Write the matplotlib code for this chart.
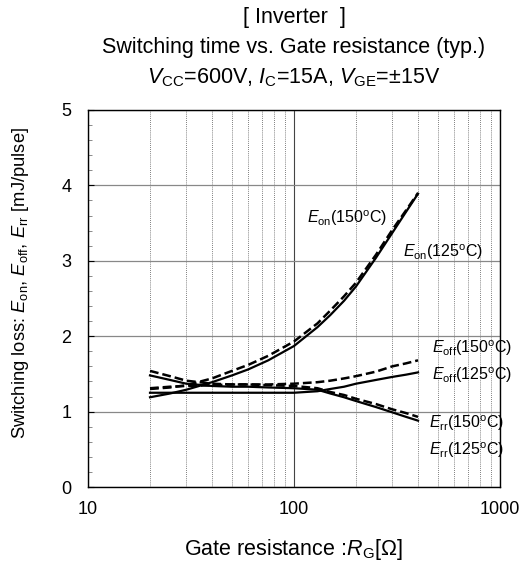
import matplotlib
matplotlib.use("Agg")
import matplotlib.pyplot as plt
from matplotlib.ticker import LogLocator, NullFormatter, MultipleLocator

plt.rcParams['font.family'] = ['Liberation Sans', 'DejaVu Sans']
plt.rcParams['mathtext.fontset'] = 'custom'
plt.rcParams['mathtext.rm'] = 'Liberation Sans'
plt.rcParams['mathtext.it'] = 'Liberation Sans:italic'

# gate resistance [ohm]
rg = [20, 25, 30, 40, 50, 60, 75, 100, 130, 150, 175, 200, 250, 300, 350, 400]

eon_125 = [1.19, 1.24, 1.29, 1.39, 1.48, 1.56, 1.68, 1.87, 2.12, 2.28, 2.47, 2.66, 3.04, 3.37, 3.65, 3.89]
eon_150 = [1.30, 1.32, 1.35, 1.44, 1.54, 1.62, 1.74, 1.93, 2.17, 2.34, 2.53, 2.71, 3.08, 3.41, 3.67, 3.90]
eoff_125 = [1.25, 1.25, 1.25, 1.25, 1.25, 1.25, 1.25, 1.25, 1.27, 1.30, 1.33, 1.37, 1.42, 1.46, 1.49, 1.52]
eoff_150 = [1.31, 1.33, 1.34, 1.35, 1.36, 1.36, 1.36, 1.37, 1.39, 1.41, 1.44, 1.47, 1.53, 1.60, 1.64, 1.68]
err_125 = [1.48, 1.42, 1.37, 1.34, 1.33, 1.33, 1.32, 1.31, 1.29, 1.24, 1.19, 1.14, 1.06, 0.99, 0.93, 0.88]
err_150 = [1.54, 1.47, 1.41, 1.37, 1.36, 1.36, 1.35, 1.34, 1.31, 1.26, 1.22, 1.17, 1.10, 1.03, 0.98, 0.93]

fig = plt.figure(figsize=(5.19, 5.62), dpi=100)
ax = fig.add_axes([88/519, 1-487/562, 412/519, 377/562])

dash = (3.5, 1.6)
ax.plot(rg, eon_125, color='black', lw=1.6, zorder=3)
ax.plot(rg, eon_150, color='black', lw=1.8, dashes=dash, zorder=3)
ax.plot(rg, eoff_125, color='black', lw=1.6, zorder=3)
ax.plot(rg, eoff_150, color='black', lw=1.8, dashes=dash, zorder=3)
ax.plot(rg, err_125, color='black', lw=1.6, zorder=3)
ax.plot(rg, err_150, color='black', lw=1.8, dashes=dash, zorder=3)

ax.set_xscale('log')
ax.set_xlim(10, 1000)
ax.set_ylim(0, 5)
ax.xaxis.set_minor_locator(LogLocator(base=10, subs=range(2, 10), numticks=20))
ax.xaxis.set_minor_formatter(NullFormatter())
ax.set_xticks([10, 100, 1000])
ax.set_xticklabels(['10', '100', '1000'])
ax.yaxis.set_major_locator(MultipleLocator(1))
ax.yaxis.set_minor_locator(MultipleLocator(0.2))

ax.grid(which='minor', axis='x', color='#555555', ls=(0, (1, 1.5)), lw=0.6)
ax.grid(which='major', axis='x', color='#444444', ls='-', lw=0.8)
ax.grid(which='major', axis='y', color='#888888', ls='-', lw=0.9)

ax.tick_params(axis='x', which='both', length=0, labelsize=13, pad=10)
ax.tick_params(axis='y', which='major', direction='in', length=4, labelsize=13, pad=12)
ax.tick_params(axis='y', which='minor', direction='in', length=3, width=0.6, color='#777777')
for s in ax.spines.values():
    s.set_linewidth(1.0)

fig.text(294/519, 1-550/562, r'Gate resistance :$\mathit{R}$$_{\mathrm{G}}$[$\Omega$]',
         ha='center', va='center', fontsize=15.5)
fig.text(21/519, 1-283/562,
         r'Switching loss: $\mathit{E}_{\mathrm{on}}$, $\mathit{E}_{\mathrm{off}}$, $\mathit{E}_{\mathrm{rr}}$ [mJ/pulse]',
         ha='center', va='center', rotation=90, fontsize=13.2)

fig.text(294/519, 1-18/562, '[ Inverter  ]', ha='center', va='center', fontsize=15.5)
fig.text(294/519, 1-48/562, 'Switching time vs. Gate resistance (typ.)', ha='center', va='center', fontsize=15.5)
fig.text(294/519, 1-78/562, r'$\mathit{V}$$_{\mathrm{CC}}$=600V, $\mathit{I}$$_{\mathrm{C}}$=15A, $\mathit{V}$$_{\mathrm{GE}}$=$\pm$15V',
         ha='center', va='center', fontsize=15.5)

labels = [
    (r'$\mathit{E}_{\mathrm{on}}$(150$^{\mathrm{o}}$C)', 307, 218),
    (r'$\mathit{E}_{\mathrm{on}}$(125$^{\mathrm{o}}$C)', 403, 252),
    (r'$\mathit{E}_{\mathrm{off}}$(150$^{\mathrm{o}}$C)', 432, 348),
    (r'$\mathit{E}_{\mathrm{off}}$(125$^{\mathrm{o}}$C)', 432, 375),
    (r'$\mathit{E}_{\mathrm{rr}}$(150$^{\mathrm{o}}$C)', 429, 423),
    (r'$\mathit{E}_{\mathrm{rr}}$(125$^{\mathrm{o}}$C)', 429, 450),
]
for txt, px, py in labels:
    fig.text(px/519, 1-py/562, txt, ha='left', va='center', fontsize=11.5, zorder=5)

fig.savefig('out.png', dpi=100)
